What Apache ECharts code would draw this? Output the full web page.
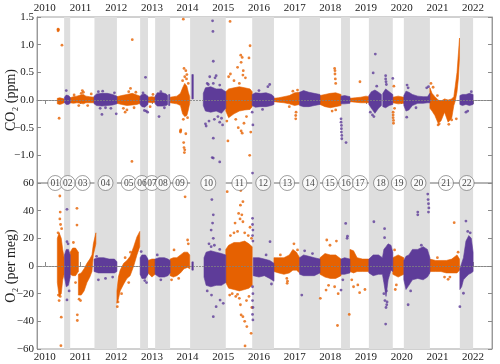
<!DOCTYPE html>
<html>
<head>
<meta charset="utf-8">
<script src="https://cdn.jsdelivr.net/npm/echarts@6/dist/echarts.min.js"></script>
<style>
html, body { margin: 0; padding: 0; background: #fff; }
#chart { width: 500px; height: 364px; }
</style>
</head>
<body>
<div id="chart"></div>
<script>
// 年份刻度
var years = [2010, 2011, 2012, 2013, 2014, 2015, 2016, 2017, 2018, 2019, 2020, 2021, 2022];

// 分段编号及其位置
var segLabels = ['01','02','03','04','05','06','07','08','09','10','11','12','13','14','15','16','17','18','19','20','21','22'];
var segLabelT = [2010.29, 2010.64, 2011.06, 2011.70, 2012.35, 2012.72, 2013.00, 2013.31, 2013.79, 2014.58, 2015.45,
                 2016.12, 2016.79, 2017.43, 2017.99, 2018.44, 2018.83, 2019.42, 2019.92, 2020.47, 2021.24, 2021.82];

// 灰色区间（偶数段）
var bandStart = [2010.54, 2011.39, 2012.67, 2013.09, 2014.07, 2015.81, 2017.13, 2018.30, 2019.08, 2020.06, 2021.63];
var bandEnd   = [2010.71, 2012.02, 2012.89, 2013.51, 2015.07, 2016.42, 2017.71, 2018.55, 2019.75, 2020.79, 2022.00];

// CO2 密集区 [t, 下沿, 上沿]，每段一个多边形
var co2OrangeCore = [
    [[2010.35,-0.07,0.03],[2010.42,-0.08,0.04],[2010.48,-0.07,0.03],[2010.54,-0.05,0.02]],
    [[2010.71,-0.05,0.04],[2010.8,-0.06,0.06],[2010.9,-0.05,0.07],[2011.0,-0.06,0.09],[2011.08,-0.07,0.1],[2011.15,-0.05,0.07],[2011.25,-0.05,0.06],[2011.38,-0.05,0.05]],
    [[2012.02,-0.06,0.06],[2012.15,-0.08,0.08],[2012.3,-0.1,0.1],[2012.45,-0.09,0.12],[2012.58,-0.08,0.09],[2012.67,-0.06,0.07]],
    [[2012.89,-0.04,0.05],[2013.0,-0.05,0.06],[2013.09,-0.04,0.05]],
    [[2013.51,-0.05,0.05],[2013.6,-0.06,0.06],[2013.7,-0.07,0.07],[2013.8,-0.1,0.12],[2013.86,-0.25,0.22],[2013.92,-0.3,0.3],[2013.98,-0.28,0.25],[2014.02,-0.18,0.14],[2014.06,-0.06,0.06]],
    [[2015.07,-0.2,0.15],[2015.15,-0.32,0.2],[2015.3,-0.25,0.22],[2015.45,-0.2,0.24],[2015.6,-0.18,0.22],[2015.75,-0.17,0.2],[2015.81,-0.12,0.15]],
    [[2016.42,-0.03,0.03],[2016.55,-0.04,0.04],[2016.7,-0.05,0.06],[2016.85,-0.07,0.08],[2017.0,-0.1,0.13],[2017.14,-0.08,0.14]],
    [[2017.71,-0.08,0.08],[2017.85,-0.12,0.1],[2018.0,-0.14,0.12],[2018.15,-0.12,0.13],[2018.3,-0.1,0.1]],
    [[2018.55,-0.03,0.03],[2018.7,-0.04,0.04],[2018.85,-0.05,0.05],[2019.0,-0.05,0.07],[2019.08,-0.05,0.06]],
    [[2019.75,-0.05,0.05],[2019.9,-0.07,0.07],[2020.06,-0.06,0.05]],
    [[2020.79,-0.15,0.22],[2020.85,-0.2,0.12],[2020.93,-0.28,0.06],[2021.02,-0.42,0.0],[2021.1,-0.38,-0.02],[2021.2,-0.22,0.02],[2021.3,-0.4,0.0],[2021.4,-0.33,0.02],[2021.46,-0.1,0.06],[2021.5,-0.02,0.25],[2021.55,0.15,0.5],[2021.59,0.4,0.85],[2021.62,0.75,1.12]]
];
var co2OrangeOut = [
    [2010.37,1.28],[2010.37,1.25],[2010.38,1.27],[2010.48,0.99],[2010.4,-0.33],
    [2011.05,0.17],[2011.08,0.14],[2011.02,0.12],[2011.3,0.11],[2010.95,-0.1],[2011.2,-0.1],[2010.82,0.09],
    [2012.45,1.09],[2012.44,-1.11],[2012.4,0.21],[2012.25,-0.22],[2012.3,-0.18],[2012.35,0.15],[2012.2,-0.15],[2012.55,0.14],[2012.5,-0.14],
    [2012.95,-0.12],[2013.03,0.1],
    [2013.88,1.46],[2013.9,0.57],[2013.95,0.53],[2013.92,0.42],[2013.97,0.38],[2013.86,0.35],[2013.8,-0.56],[2013.8,-0.58],[2013.81,-0.54],
    [2013.89,-0.77],[2013.9,-0.86],[2013.91,-0.95],[2013.92,-0.9],[2013.95,-0.61],[2013.98,0.46],[2014.02,0.3],[2013.88,-0.35],[2014.0,-0.32],
    [2015.19,1.42],[2015.75,0.98],[2015.49,0.81],[2015.53,0.77],[2015.72,0.76],[2015.5,0.68],[2015.4,0.59],[2015.2,0.47],[2015.15,0.42],
    [2015.56,0.53],[2015.55,0.45],[2015.62,0.4],[2015.3,0.35],[2015.13,-0.74],[2015.5,-0.56],[2015.53,-0.6],[2015.58,-0.42],[2015.42,-0.5],
    [2015.74,-1.0],[2015.77,-0.58],[2015.35,-0.35],[2015.65,-0.3],[2015.1,-0.38],[2015.45,0.3],
    [2017.03,-0.34],[2017.03,-0.28],[2017.04,-0.22],[2016.95,0.16],[2017.08,0.18],[2016.85,-0.12],
    [2018.12,0.57],[2018.13,0.53],[2018.13,0.47],[2018.14,0.38],[2018.15,0.3],[2018.05,-0.2],[2018.15,-0.18],
    [2018.83,0.33],
    [2019.76,-0.22],[2019.76,-0.27],[2019.76,-0.32],[2019.77,-0.37],[2019.77,-0.42],[2019.78,0.25],[2019.8,-0.15],
    [2020.82,0.3],[2020.88,0.23],[2021.02,-0.45],[2021.05,-0.43],[2021.32,-0.44],[2021.4,-0.36],[2021.53,-0.34],[2021.0,0.08]
];
var co2PurpleCore = [
    [[2010.55,-0.05,0.05],[2010.6,-0.08,0.09],[2010.66,-0.08,0.08],[2010.71,-0.06,0.05]],
    [[2011.38,-0.07,0.07],[2011.45,-0.1,0.11],[2011.6,-0.11,0.12],[2011.75,-0.1,0.12],[2011.9,-0.09,0.1],[2012.02,-0.07,0.07]],
    [[2012.67,-0.08,0.07],[2012.72,-0.12,0.1],[2012.8,-0.13,0.11],[2012.89,-0.08,0.07]],
    [[2013.09,-0.07,0.07],[2013.15,-0.11,0.13],[2013.3,-0.11,0.13],[2013.4,-0.1,0.11],[2013.44,-0.08,0.08]],
    [[2013.47,-0.1,0.1],[2013.5,-0.1,0.1]],
    [[2014.12,0.02,0.46],[2014.16,0.02,0.46]],
    [[2014.44,-0.1,0.12],[2014.5,-0.2,0.22],[2014.65,-0.22,0.24],[2014.8,-0.2,0.2],[2014.95,-0.24,0.2],[2015.07,-0.15,0.15]],
    [[2015.81,-0.1,0.1],[2015.9,-0.13,0.13],[2016.05,-0.12,0.12],[2016.2,-0.12,0.13],[2016.35,-0.1,0.1],[2016.42,-0.08,0.06]],
    [[2017.14,-0.1,0.14],[2017.25,-0.12,0.17],[2017.4,-0.12,0.14],[2017.55,-0.1,0.12],[2017.71,-0.08,0.1]],
    [[2018.3,-0.07,0.07],[2018.4,-0.07,0.08],[2018.55,-0.06,0.06]],
    [[2019.08,-0.08,0.08],[2019.15,-0.15,0.15],[2019.25,-0.24,0.18],[2019.35,-0.15,0.14],[2019.43,-0.1,0.1]],
    [[2019.47,-0.12,0.12],[2019.55,-0.14,0.2],[2019.65,-0.1,0.15],[2019.75,-0.08,0.1]],
    [[2020.06,-0.1,0.08],[2020.12,-0.2,0.16],[2020.2,-0.18,0.14],[2020.3,-0.1,0.1],[2020.45,-0.06,0.07],[2020.6,-0.06,0.06],[2020.72,-0.05,0.06],[2020.79,-0.05,0.12]],
    [[2021.63,-0.08,0.08],[2021.7,-0.1,0.1],[2021.8,-0.08,0.1],[2021.9,-0.1,0.12],[2022.0,-0.08,0.1]]
];
var co2PurpleOut = [
    [2010.6,0.17],
    [2011.6,-0.26],[2012.0,-0.25],[2011.5,0.15],[2011.62,0.16],[2011.55,-0.15],[2011.7,-0.14],[2011.85,-0.15],[2011.95,0.13],
    [2012.82,0.41],[2012.79,-0.19],[2012.84,-0.2],[2012.75,0.13],[2012.88,-0.22],
    [2013.2,-0.3],[2013.25,0.15],[2013.35,-0.14],
    [2014.7,1.43],[2014.71,1.24],[2014.72,0.7],[2014.62,0.42],[2014.77,0.4],[2014.8,0.44],[2014.55,0.3],[2014.5,-0.43],[2014.52,-0.47],
    [2014.6,-0.38],[2014.72,-0.69],[2014.69,-1.04],[2014.72,-1.05],[2014.9,-1.12],[2014.9,-0.4],[2014.95,-0.33],[2014.98,-0.45],
    [2014.75,-0.35],[2014.85,-0.3],[2014.58,0.28],[2014.72,0.3],[2014.9,0.27],
    [2016.3,0.28],[2016.25,0.24],[2015.82,-1.32],[2015.81,-0.22],[2015.83,-0.45],[2016.0,0.17],[2016.1,-0.17],
    [2018.3,-0.34],[2018.3,-0.4],[2018.31,-0.46],[2018.31,-0.52],[2018.31,-0.58],[2018.32,-0.64],[2018.32,-0.7],[2018.44,-0.77],
    [2019.26,0.83],[2019.2,0.49],[2019.55,0.44],[2019.55,0.38],[2019.56,0.33],[2019.57,0.28],[2019.75,0.39],[2019.18,-0.27],
    [2019.22,-0.3],[2019.12,-0.22],[2019.3,0.25],
    [2020.15,0.27],[2020.18,0.22],[2020.14,-0.31],[2020.7,0.22],[2020.75,0.24],[2020.4,-0.14],
    [2021.8,-0.22],[2021.85,-0.2],[2021.95,0.15]
];

// O2 密集区 [t, 下沿, 上沿]
var o2OrangeCore = [
    [[2010.35,-12,20],[2010.4,-22,24],[2010.46,-20,20],[2010.5,-10,12],[2010.54,-6,6]],
    [[2010.71,-6,10],[2010.78,-7,13],[2010.86,-7,13],[2010.94,-4,10]],
    [[2010.94,-21,-6],[2011.02,-21,-5],[2011.1,-18,-2],[2011.18,-12,2],[2011.26,-8,5],[2011.32,-4,8],[2011.36,8,16],[2011.43,16,24]],
    [[2012.02,-27,-18],[2012.06,-24,-8],[2012.11,-18,-3],[2012.21,-13,2],[2012.3,-9,4],[2012.39,-7,7],[2012.49,0,14],[2012.58,8,21],[2012.66,14,25]],
    [[2012.89,-5,4],[2013.0,-8,5],[2013.09,-6,5]],
    [[2013.51,-7,5],[2013.6,-8,6],[2013.7,-7,6],[2013.8,-5,8],[2013.9,-2,10],[2014.0,-1,10],[2014.06,-2,8]],
    [[2015.07,-12,12],[2015.15,-16,15],[2015.3,-17,17],[2015.45,-18,17],[2015.6,-17,18],[2015.72,-16,16],[2015.81,-14,14]],
    [[2016.42,-4,6],[2016.55,-5,6],[2016.7,-6,6],[2016.85,-5,8],[2016.95,-3,12],[2017.05,-3,10],[2017.14,-5,6]],
    [[2017.71,-6,6],[2017.85,-8,9],[2018.0,-9,8],[2018.15,-9,8],[2018.3,-7,5]],
    [[2018.55,-4,12],[2018.65,-5,11],[2018.75,-4,6],[2018.9,-4,5],[2019.08,-4,5]],
    [[2019.75,-6,6],[2019.9,-8,8],[2020.06,-6,6]],
    [[2020.79,-4,5],[2020.95,-4,4],[2021.1,-4,4],[2021.25,-5,4],[2021.4,-5,5],[2021.55,-5,8],[2021.62,-3,5]]
];
var o2OrangeOut = [
    [2010.42,50.6],[2010.43,39],[2010.42,34],[2010.44,30],[2010.46,-37],[2010.45,-57.6],[2010.38,-21],[2010.4,-25],[2010.47,27],[2010.37,24],[2010.43,-22],
    [2010.8,17],[2010.86,-12],[2010.9,41.7],[2010.9,29.6],[2010.91,-35.3],[2010.91,-39.4],[2010.96,-24],[2011.0,-25],
    [2012.03,-29.4],[2012.05,-26],[2012.15,-20],[2012.35,-12],[2012.4,10],[2012.25,6],
    [2013.93,50],[2013.62,11.6],[2014.0,18.8],[2014.02,16],[2013.55,-10],[2013.75,-9],
    [2015.11,53.7],[2015.49,54.5],[2015.55,46.5],[2015.48,44],[2015.43,38],[2015.52,37],[2015.33,31],[2015.47,34],[2015.55,32],
    [2015.4,25],[2015.2,22],[2015.6,24],[2015.7,22],[2015.25,-20],[2015.35,-22],[2015.48,-28],[2015.5,-35.4],[2015.55,-36.6],
    [2015.6,-40],[2015.66,-43.8],[2015.78,-48.7],[2015.61,-57.8],[2015.45,-23.4],[2015.4,-20.5],[2015.65,-25],[2015.72,-22],
    [2015.3,24],[2015.75,28],[2015.18,-21],[2015.8,-30],[2015.79,20],
    [2016.78,-9],[2016.79,-12.5],[2016.8,-11],[2016.98,16],[2017.08,11.6],[2016.6,8],
    [2017.9,18.8],[2017.99,15],[2018.17,18],[2017.72,-23.4],[2017.88,-17.4],[2017.95,-14],[2018.2,-43],[2018.12,-15],[2018.22,-20],
    [2018.53,-35],[2018.65,-15],[2018.77,-13.7],[2018.82,-19.3],[2018.97,-17],[2018.6,-10],
    [2019.8,11.6],[2019.85,-13.7],[2019.82,-17],
    [2021.47,31.3],[2021.3,-9.6],[2021.35,-8],[2021.58,10],[2021.0,6],[2021.2,-8]
];
var o2PurpleCore = [
    [[2010.55,-8,8],[2010.6,-15,12],[2010.66,-14,12],[2010.71,-8,8]],
    [[2011.38,-4,5],[2011.5,-5,6],[2011.65,-5,6],[2011.8,-5,5],[2011.95,-5,5],[2012.02,-4,3]],
    [[2012.67,-6,6],[2012.72,-9,8],[2012.82,-9,8],[2012.89,-6,5]],
    [[2013.09,-6,5],[2013.2,-8,6],[2013.35,-8,6],[2013.45,-7,5],[2013.51,-5,4]],
    [[2014.12,-3,3],[2014.16,-3,3]],
    [[2014.46,-8,6],[2014.52,-14,10],[2014.65,-15,11],[2014.8,-14,10],[2014.95,-14,9],[2015.07,-12,8]],
    [[2015.84,-7,6],[2016.0,-8,6],[2016.15,-7,5],[2016.3,-9,4],[2016.42,-11,2]],
    [[2017.14,-6,6],[2017.25,-7,8],[2017.4,-7,7],[2017.55,-7,6],[2017.71,-5,5]],
    [[2018.3,-6,5],[2018.4,-6,6],[2018.55,-5,5]],
    [[2019.08,-5,5],[2019.2,-7,8],[2019.35,-6,8],[2019.46,-6,6],[2019.5,-12,12],[2019.56,-22,14],[2019.62,-10,16],[2019.7,-3,15],[2019.75,-4,10]],
    [[2020.06,-10,4],[2020.12,-17,7],[2020.2,-14,8],[2020.3,-10,12],[2020.45,-9,12],[2020.6,-10,14],[2020.72,-8,12],[2020.79,-5,6]],
    [[2021.63,-17,-2],[2021.68,-15,2],[2021.73,-10,6],[2021.8,-8,18],[2021.88,-6,22],[2021.95,-5,20],[2022.0,-4,10]]
];
var o2PurpleOut = [
    [2010.62,41],[2010.62,17.6],[2010.65,16],[2010.62,-24.5],[2010.68,-18],
    [2011.5,-10],[2011.45,7],[2011.7,-9],[2011.9,-8],
    [2012.7,10.4],[2012.8,-10.5],[2012.85,-12],
    [2013.15,8],[2013.25,-10],
    [2014.68,48],[2014.72,37],[2014.7,31],[2014.66,26],[2014.72,20],[2014.66,14],[2014.67,-21],[2014.72,-36.6],[2014.91,-24.6],
    [2015.0,-27],[2014.8,-29.4],[2014.55,-18],[2014.6,16],[2014.75,15],[2014.9,12],
    [2015.82,34.5],[2015.82,30],[2015.83,26],[2015.82,22],[2015.83,18],[2015.82,-15],[2015.83,-20],[2015.82,-25],[2015.83,-30],[2015.82,-35],[2015.83,-39],
    [2016.31,17.6],[2016.2,8],[2016.35,-13],
    [2017.2,-21],[2017.28,11],[2017.5,9],
    [2018.43,30.8],[2018.47,20],[2018.48,21.5],[2018.3,-17.4],[2018.35,-10],
    [2019.22,32],[2019.52,27],[2019.52,20.5],[2019.55,-42],[2019.56,-30],[2019.58,-28],[2019.53,-25],[2019.59,-26],[2019.5,-20],[2019.57,-18],
    [2020.73,52],[2020.74,48],[2020.75,45],[2020.76,42],[2020.75,39],[2020.45,39],[2020.45,37],[2020.18,-28],[2020.25,-18],[2020.55,15],
    [2021.8,32.5],[2021.63,-29.4],[2021.73,-19.7],[2021.85,25],[2021.92,24]
];

var ORANGE = '#e66101';
var PURPLE = '#5e3c99';
var FONT = "'Liberation Serif', 'DejaVu Serif', serif";
var FRAME = '#8a8a8a';

function minus(s) {
    return s.replace('-', '\u2212');
}

// 密集区：每个多边形 = 上沿正向 + 下沿反向
function coreSeries(list, color, gi) {
    return {
        type: 'custom', xAxisIndex: gi, yAxisIndex: gi * 2, z: 3, silent: true, clip: true,
        data: list.map(function(poly) { return [poly[0][0], poly[0][1]]; }),
        encode: {x: 0, y: 1},
        renderItem: function(params, api) {
            var poly = list[params.dataIndex];
            var pts = [];
            for (var i = 0; i < poly.length; i++) pts.push(api.coord([poly[i][0], poly[i][2]]));
            for (var k = poly.length - 1; k >= 0; k--) pts.push(api.coord([poly[k][0], poly[k][1]]));
            return {type: 'polygon', shape: {points: pts}, style: {fill: color, stroke: color, lineWidth: 0.6}};
        }
    };
}

function outSeries(list, color, gi) {
    return {
        type: 'scatter', xAxisIndex: gi, yAxisIndex: gi * 2, z: 4, silent: true,
        data: list, symbolSize: 2.8,
        itemStyle: {color: color}
    };
}

function bandSeries(gi) {
    return {
        type: 'custom', xAxisIndex: gi, yAxisIndex: gi * 2, z: 1, silent: true,
        data: bandStart.map(function(s, i) { return [s, bandEnd[i]]; }),
        encode: {x: [0, 1]},
        renderItem: function(params, api) {
            var cs = params.coordSys;
            var a = api.coord([api.value(0), 0]);
            var b = api.coord([api.value(1), 0]);
            return {type: 'rect', shape: {x: a[0], y: cs.y, width: b[0] - a[0], height: cs.height}, style: {fill: '#dedede'}};
        }
    };
}

function zeroSeries(gi) {
    return {
        type: 'line', xAxisIndex: gi, yAxisIndex: gi * 2, z: 6, data: [], silent: true,
        markLine: {
            silent: true, symbol: 'none', label: {show: false},
            lineStyle: {color: '#808080', width: 0.8, type: [2, 1]},
            data: [{yAxis: 0}]
        }
    };
}

function xAxis(gi, pos) {
    return {
        type: 'value', gridIndex: gi, position: pos, min: 2009.78, max: 2022.53,
        axisLine: {show: true, lineStyle: {color: FRAME, width: 0.8}},
        axisTick: {show: true, inside: true, length: 4, customValues: years, lineStyle: {color: FRAME}},
        axisLabel: {
            show: true, customValues: years, margin: 3, fontSize: 11, fontFamily: FONT, color: '#222',
            formatter: function(v) { return String(Math.round(v)); }
        },
        splitLine: {show: false}
    };
}

function yAxis(gi, pos, min, max, step, name, fmt) {
    return {
        type: 'value', gridIndex: gi, position: pos, min: min, max: max, interval: step,
        name: pos == 'left' ? name : '', nameLocation: 'middle', nameGap: 19, nameMoveOverlap: false,
        nameTextStyle: {fontSize: 14, fontFamily: FONT, color: '#222'},
        axisLine: {show: true, lineStyle: {color: FRAME, width: 0.8}},
        axisTick: {show: true, inside: true, length: 4, lineStyle: {color: FRAME}},
        axisLabel: {show: pos == 'left', margin: 3, fontSize: 11, fontFamily: FONT, color: '#222', formatter: fmt},
        splitLine: {show: false}
    };
}

var chart = echarts.init(document.getElementById('chart'), null, {renderer: 'canvas'});

var option = {
    animation: false,
    backgroundColor: '#fff',
    grid: [
        {left: 37, right: 8, top: 17, height: 166, outerBoundsMode: 'none', containLabel: false,
         show: true, borderColor: FRAME, borderWidth: 0.8, backgroundColor: 'transparent'},
        {left: 37, right: 8, top: 183, height: 166, outerBoundsMode: 'none', containLabel: false,
         show: true, borderColor: FRAME, borderWidth: 0.8, backgroundColor: 'transparent'}
    ],
    xAxis: [xAxis(0, 'top'), xAxis(1, 'bottom')],
    yAxis: [
        yAxis(0, 'left', -1.5, 1.5, 0.5, 'CO\u2082 (ppm)', function(v) {
            if (v <= -1.5) return '';
            return minus(v.toFixed(1));
        }),
        yAxis(0, 'right', -1.5, 1.5, 0.5, '', null),
        yAxis(1, 'left', -60, 60, 20, 'O\u2082 (per meg)', function(v) {
            return minus(String(v));
        }),
        yAxis(1, 'right', -60, 60, 20, '', null)
    ],
    series: [
        bandSeries(0), bandSeries(1),
        coreSeries(co2OrangeCore, ORANGE, 0), coreSeries(co2PurpleCore, PURPLE, 0),
        outSeries(co2OrangeOut, ORANGE, 0), outSeries(co2PurpleOut, PURPLE, 0),
        coreSeries(o2OrangeCore, ORANGE, 1), coreSeries(o2PurpleCore, PURPLE, 1),
        outSeries(o2OrangeOut, ORANGE, 1), outSeries(o2PurpleOut, PURPLE, 1),
        zeroSeries(0), zeroSeries(1),
        {
            type: 'scatter', xAxisIndex: 1, yAxisIndex: 2, z: 20, silent: true, clip: false,
            data: segLabelT.map(function(t, i) { return [t, 60, segLabels[i]]; }),
            symbol: 'circle', symbolSize: 15,
            itemStyle: {color: '#fff', borderColor: '#666', borderWidth: 0.8},
            label: {
                show: true, position: 'inside', fontSize: 9.5, fontFamily: FONT, color: '#111',
                formatter: function(p) { return p.data[2]; }
            }
        }
    ]
};

chart.setOption(option);
</script>
</body>
</html>
